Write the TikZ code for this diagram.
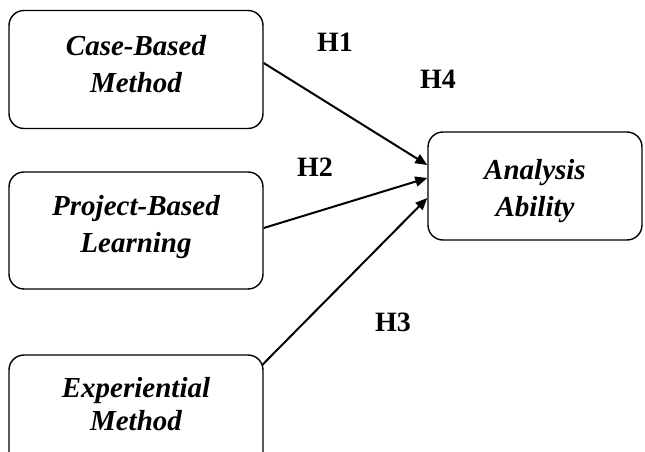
\documentclass[tikz,border=0pt]{standalone}
\usepackage{fontspec}
\setmainfont{Liberation Serif}
\usetikzlibrary{arrows.meta}
\begin{document}
\begin{tikzpicture}[x=1pt,y=-1pt,
  varbox/.style={draw, line width=1.4pt, rounded corners=15pt, inner sep=0pt},
  vartext/.style={align=center, inner sep=0pt,
    font=\fontsize{29}{37}\selectfont\bfseries\itshape},
  hlabel/.style={font=\fontsize{28}{30}\selectfont\bfseries, inner sep=0pt},
  link/.style={line width=2pt, -{Triangle[length=12pt,width=10pt]}}]
\useasboundingbox (0,0) rectangle (645,452);
\begin{scope}
\clip (0,0) rectangle (645,452);
\node[varbox, minimum width=254pt, minimum height=118pt] (b1) at (136,69.5) {};
\node[varbox, minimum width=254pt, minimum height=117pt] (b2) at (136,230.5) {};
\node[varbox, minimum width=254pt, minimum height=117pt] (b3) at (136,413.5) {};
\node[varbox, minimum width=214pt, minimum height=108pt] (b4) at (535,186) {};
\node[vartext] (t1) at (136,64.5) {Case-Based\\Method};
\node[vartext] (t2) at (136,227) {Project-Based\\Learning};
\node[vartext, font=\fontsize{29}{33}\selectfont\bfseries\itshape] (t3) at (136,404) {Experiential\\Method};
\node[vartext] (t4) at (535,191) {Analysis\\Ability};
\end{scope}
\node[hlabel] (h1) at (335,42) {H1};
\node[hlabel] (h4) at (438,79) {H4};
\node[hlabel] (h2) at (315,167) {H2};
\node[hlabel] (h3) at (393,322) {H3};
\draw[link] ([yshift=6.5pt]b1.east) -- ([yshift=21pt]b4.west);
\draw[link] ([yshift=2.5pt]b2.east) -- ([yshift=8pt]b4.west);
\draw[link] ([yshift=48.5pt,xshift=-1.5pt]b3.east) -- ([yshift=-12pt]b4.west);
\end{tikzpicture}
\end{document}
